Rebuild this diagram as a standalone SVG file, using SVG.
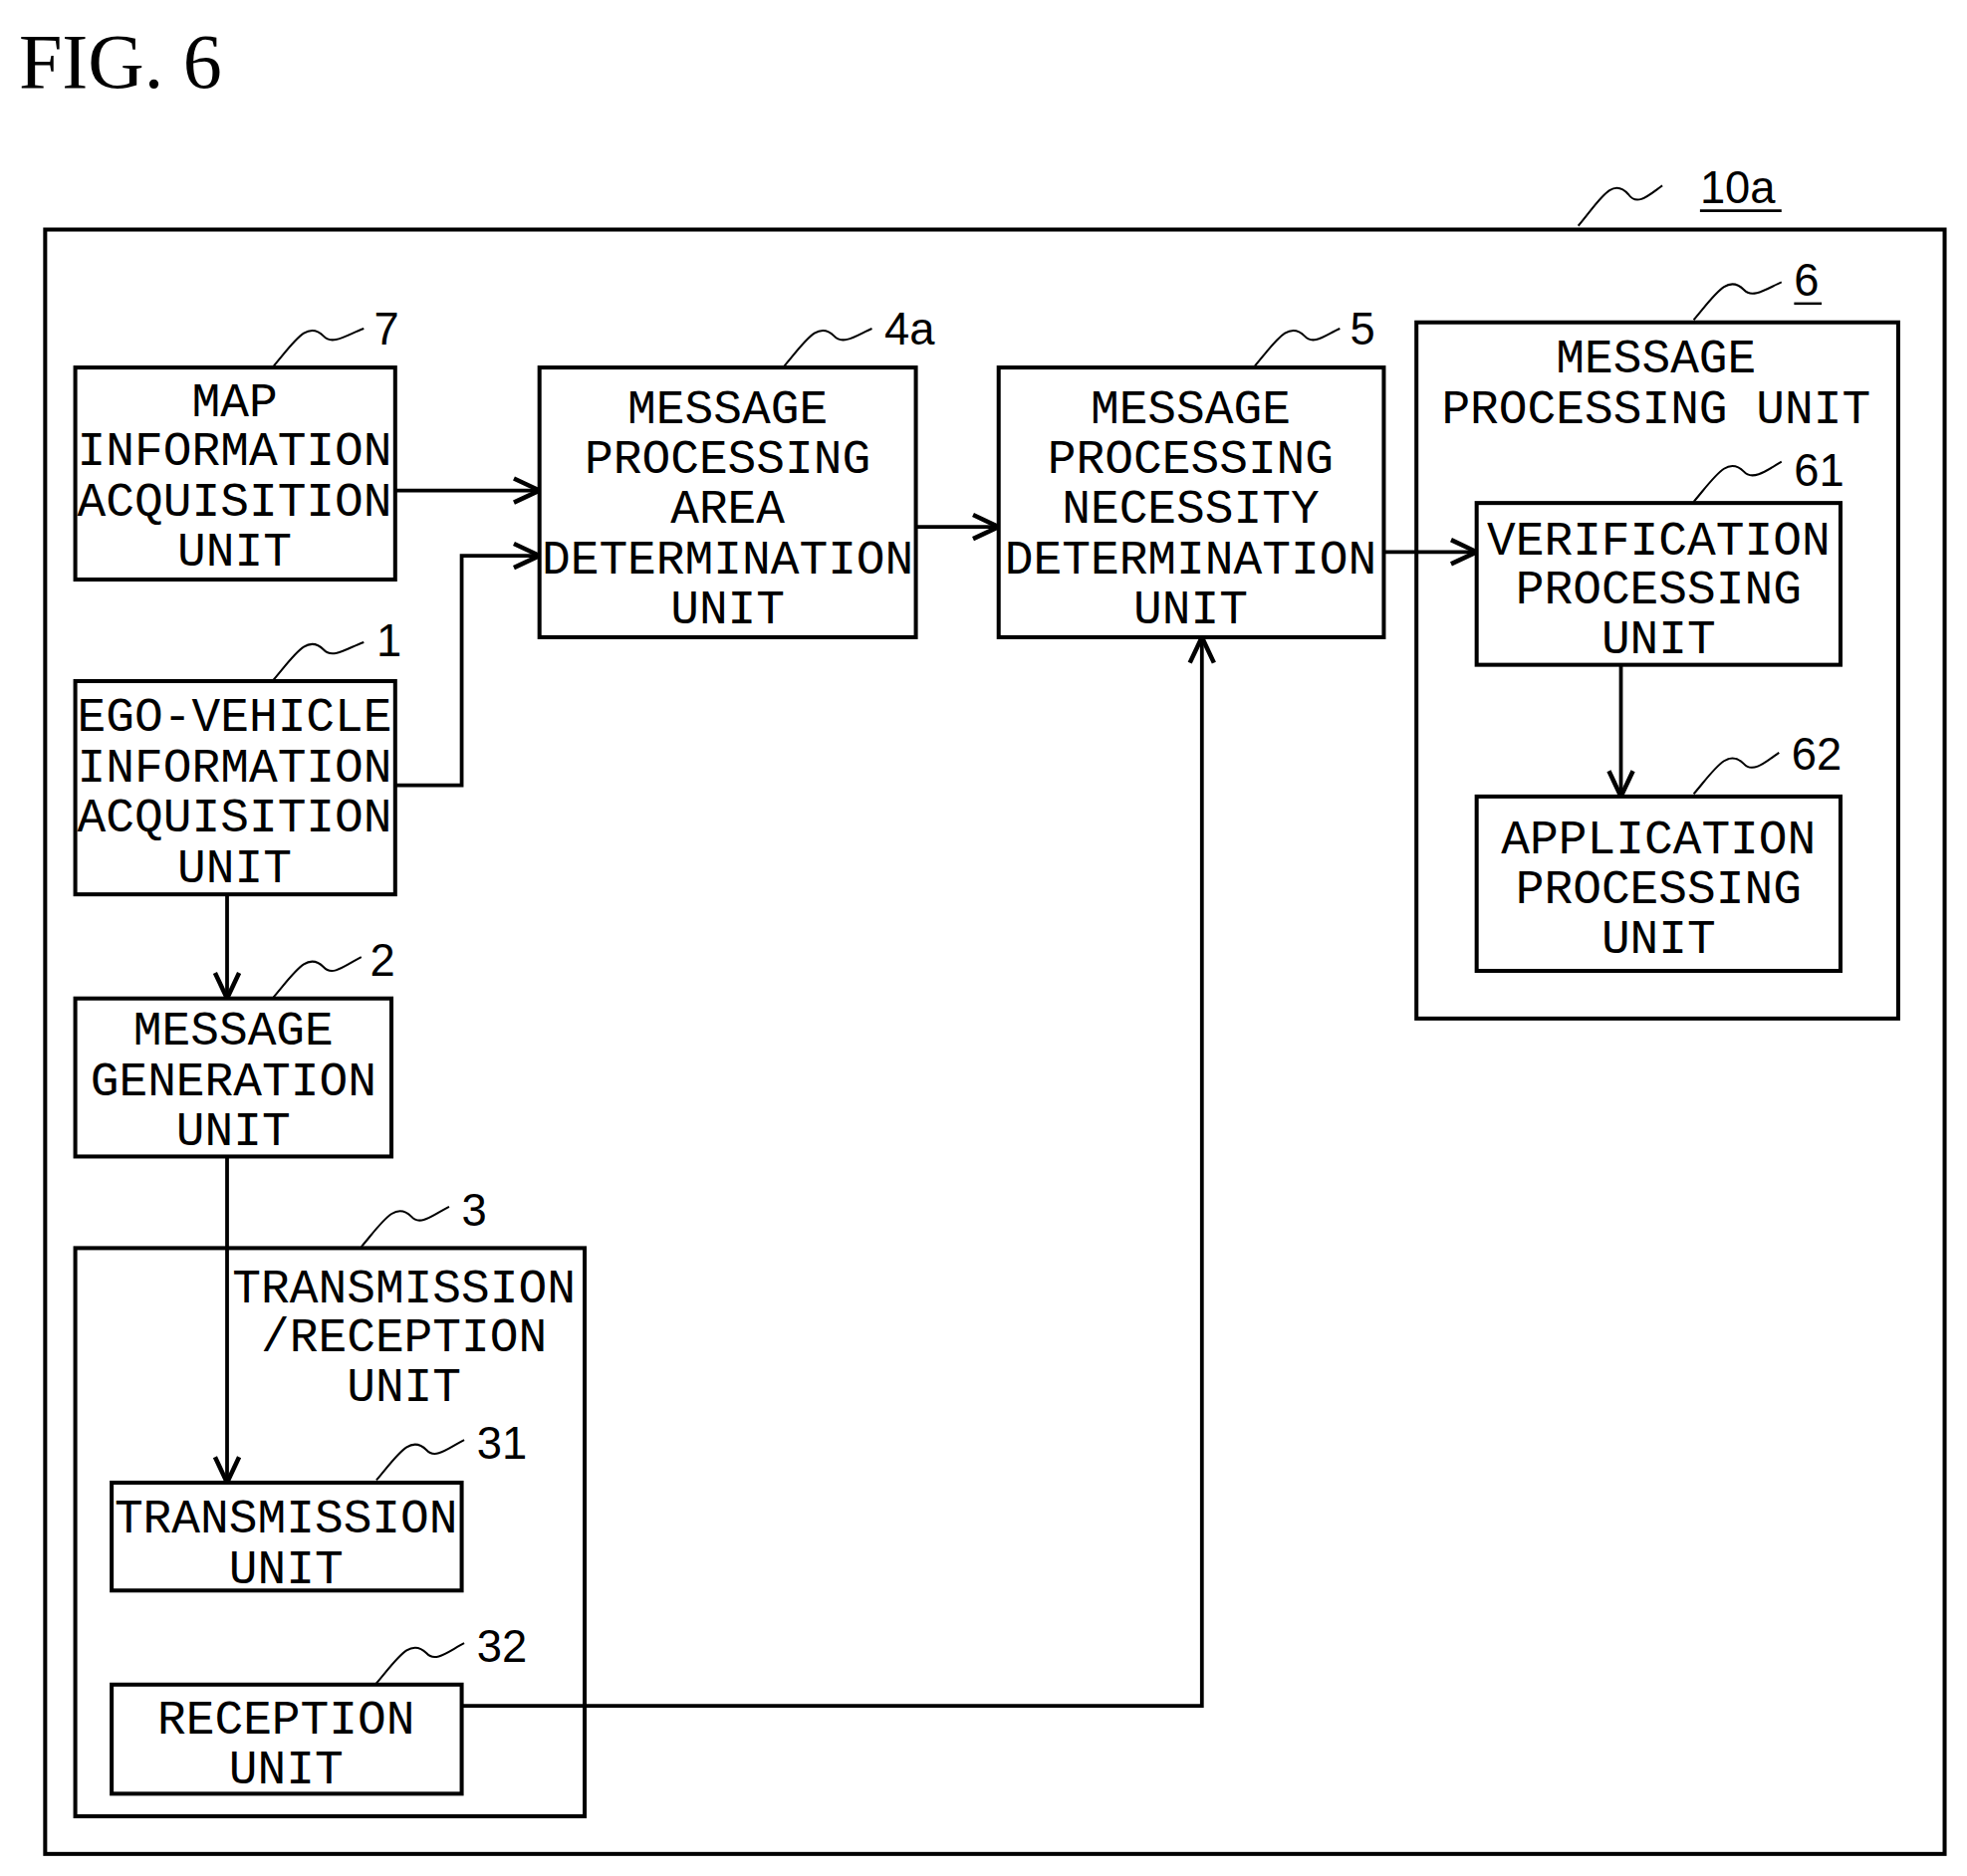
<svg xmlns="http://www.w3.org/2000/svg" width="1975" height="1884" viewBox="0 0 1975 1884">
<defs>
<style>
.b{fill:none;stroke:#000;stroke-width:3.2}
.c{fill:none;stroke:#000;stroke-width:3}
.s{fill:none;stroke:#000;stroke-width:1.6}
.t{font-family:"Liberation Mono",monospace;font-size:38px;text-anchor:middle;fill:#000}
.n{font-family:"Liberation Sans",sans-serif;font-size:36px;fill:#000}
</style>
<marker id="a" viewBox="0 0 20 20" refX="19" refY="10" markerWidth="24" markerHeight="24" markerUnits="userSpaceOnUse" orient="auto"><path d="M2,2 L19,10 L2,18" fill="none" stroke="#000" stroke-width="3"/></marker>
</defs>
<rect width="1975" height="1884" fill="#fff"/>
<g transform="scale(1.2597)">
<text x="15" y="70" font-family="Liberation Serif,serif" font-size="62">FIG. 6</text>
<g id="outer">
<rect class="b" x="36" y="183" width="1514" height="1295"/>
<path class="s" d="M1258,180 C1275,160 1285,140 1298,155 C1305,165 1315,155 1325,148"/>
<text class="n" x="1355" y="162">10a</text><line x1="1355" y1="168" x2="1420" y2="168" stroke="#000" stroke-width="2"/>
</g>
<g id="n7">
<rect class="b" x="60" y="293" width="255" height="169"/>
<text class="t" x="187" y="332">MAP</text><text class="t" x="187" y="371">INFORMATION</text><text class="t" x="187" y="411">ACQUISITION</text><text class="t" x="187" y="451">UNIT</text>
<path class="s" d="M218,292 C235,272 245,255 258,268 C265,276 278,266 290,262"/><text class="n" x="298" y="275">7</text>
</g>
<g id="n4a">
<rect class="b" x="430" y="293" width="300" height="215"/>
<text class="t" x="580" y="337">MESSAGE</text><text class="t" x="580" y="377">PROCESSING</text><text class="t" x="580" y="417">AREA</text><text class="t" x="580" y="457">DETERMINATION</text><text class="t" x="580" y="497">UNIT</text>
<path class="s" d="M625,292 C642,272 652,255 665,268 C672,276 685,266 695,262"/><text class="n" x="705" y="275">4a</text>
</g>
<g id="n5">
<rect class="b" x="796" y="293" width="307" height="215"/>
<text class="t" x="949" y="337">MESSAGE</text><text class="t" x="949" y="377">PROCESSING</text><text class="t" x="949" y="417">NECESSITY</text><text class="t" x="949" y="457">DETERMINATION</text><text class="t" x="949" y="497">UNIT</text>
<path class="s" d="M1000,292 C1017,272 1027,255 1040,268 C1047,276 1058,266 1068,262"/><text class="n" x="1076" y="275">5</text>
</g>
<g id="n6">
<rect class="b" x="1129" y="257" width="384" height="555"/>
<text class="t" x="1320" y="297">MESSAGE</text><text class="t" x="1320" y="337">PROCESSING UNIT</text>
<path class="s" d="M1350,255 C1367,235 1377,218 1390,231 C1397,239 1410,229 1420,225"/><text class="n" x="1430" y="236">6</text><line x1="1430" y1="242" x2="1452" y2="242" stroke="#000" stroke-width="2"/>
</g>
<g id="n61">
<rect class="b" x="1177" y="401" width="290" height="129"/>
<text class="t" x="1322" y="442">VERIFICATION</text><text class="t" x="1322" y="481">PROCESSING</text><text class="t" x="1322" y="521">UNIT</text>
<path class="s" d="M1350,400 C1367,380 1377,363 1390,376 C1397,384 1410,374 1420,368"/><text class="n" x="1430" y="387">61</text>
</g>
<g id="n62">
<rect class="b" x="1177" y="635" width="290" height="139"/>
<text class="t" x="1322" y="680">APPLICATION</text><text class="t" x="1322" y="720">PROCESSING</text><text class="t" x="1322" y="760">UNIT</text>
<path class="s" d="M1350,633 C1367,613 1377,596 1390,609 C1397,617 1408,607 1418,600"/><text class="n" x="1428" y="614">62</text>
</g>
<g id="n1">
<rect class="b" x="60" y="543" width="255" height="170"/>
<text class="t" x="187" y="583">EGO-VEHICLE</text><text class="t" x="187" y="623">INFORMATION</text><text class="t" x="187" y="663">ACQUISITION</text><text class="t" x="187" y="703">UNIT</text>
<path class="s" d="M218,542 C235,522 245,505 258,518 C265,526 278,516 290,512"/><text class="n" x="300" y="523">1</text>
</g>
<g id="n2">
<rect class="b" x="60" y="796" width="252" height="126"/>
<text class="t" x="186" y="833">MESSAGE</text><text class="t" x="186" y="873">GENERATION</text><text class="t" x="186" y="913">UNIT</text>
<path class="s" d="M218,795 C235,775 245,758 258,771 C265,779 276,769 288,763"/><text class="n" x="295" y="778">2</text>
</g>
<g id="n3">
<rect class="b" x="60" y="995" width="406" height="453"/>
<text class="t" x="322" y="1038">TRANSMISSION</text><text class="t" x="322" y="1077">/RECEPTION</text><text class="t" x="322" y="1117">UNIT</text>
<path class="s" d="M288,994 C305,974 315,957 328,970 C335,978 346,968 358,962"/><text class="n" x="368" y="977">3</text>
</g>
<g id="n31">
<rect class="b" x="89" y="1182" width="279" height="86"/>
<text class="t" x="228" y="1222">TRANSMISSION</text><text class="t" x="228" y="1262">UNIT</text>
<path class="s" d="M300,1180 C317,1160 327,1143 340,1156 C347,1164 358,1154 370,1148"/><text class="n" x="380" y="1163">31</text>
</g>
<g id="n32">
<rect class="b" x="89" y="1343" width="279" height="87"/>
<text class="t" x="228" y="1382">RECEPTION</text><text class="t" x="228" y="1422">UNIT</text>
<path class="s" d="M300,1342 C317,1322 327,1305 340,1318 C347,1326 358,1316 370,1310"/><text class="n" x="380" y="1325">32</text>
</g>
<g id="connectors">
<path class="c" d="M315,391 H430" marker-end="url(#a)"/>
<path class="c" d="M315,626 H368 V443 H430" marker-end="url(#a)"/>
<path class="c" d="M730,420 H796" marker-end="url(#a)"/>
<path class="c" d="M1103,440 H1177" marker-end="url(#a)"/>
<path class="c" d="M1292,530 V635" marker-end="url(#a)"/>
<path class="c" d="M181,713 V796" marker-end="url(#a)"/>
<path class="c" d="M181,922 V1182" marker-end="url(#a)"/>
<path class="c" d="M368,1360 H958 V508" marker-end="url(#a)"/>
</g>
</g>
</svg>
